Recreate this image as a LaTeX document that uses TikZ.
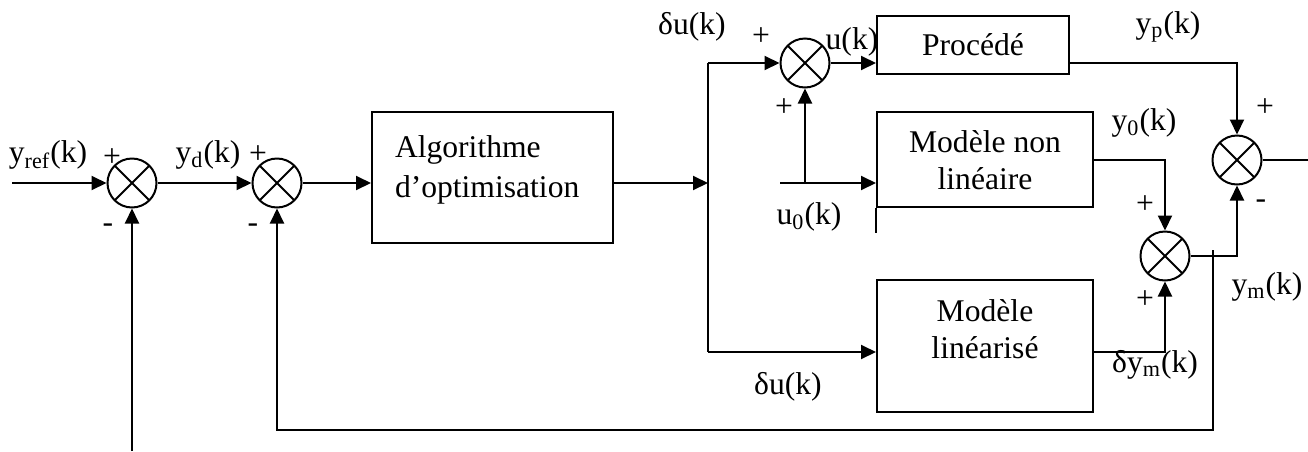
\documentclass[tikz,border=0pt]{standalone}
\usepackage{fontspec}
\setmainfont{Liberation Serif}
\usetikzlibrary{arrows.meta}
\begin{document}
\begin{tikzpicture}[x=0.5pt,y=-0.5pt,line width=1pt,
  >={Triangle[length=7.5pt,width=7pt]},
  sum/.style={circle,draw,minimum size=24.5pt,inner sep=0pt,
    path picture={\draw (path picture bounding box.north west)--(path picture bounding box.south east)
                        (path picture bounding box.north east)--(path picture bounding box.south west);}},
  blk/.style={draw,rectangle,inner sep=0pt},
  lbl/.style={inner sep=0pt,font=\fontsize{15.8}{18.5}\selectfont},
  boxtxt/.style={inner sep=0pt,align=center,font=\fontsize{15.8}{18.5}\selectfont}]
\useasboundingbox (0,0) rectangle (1308,451);
% blocks
\node[blk,minimum width=120.5pt,minimum height=65.5pt] (alg) at (492.5,177.5) {};
\node[blk,minimum width=96pt,minimum height=29pt] (proc) at (973,45) {};
\node[blk,minimum width=108pt,minimum height=47.5pt] (nl) at (985,159.5) {};
\node[blk,minimum width=108pt,minimum height=66pt] (lin) at (985,346) {};
\node[boxtxt,anchor=west,align=left,font=\fontsize{15.8}{20}\selectfont] (algt) at (394,170) {Algorithme\\d’optimisation};
\node[boxtxt] (proct) at (973,45) {Procédé};
\node[boxtxt] (nlt) at (985,160) {Modèle non\\linéaire};
\node[boxtxt] (lint) at (985,329) {Modèle\\linéarisé};
% summing junctions
\node[sum] (s1) at (132,183) {};
\node[sum] (s2) at (277,183) {};
\node[sum] (s3) at (805,63) {};
\node[sum] (s4) at (1165,256) {};
\node[sum] (s5) at (1237,160) {};
% coordinates
\coordinate (in) at (12,183);
\coordinate (fb1) at (132,451);
\coordinate (br) at (708,183);
\coordinate (brT) at (708,63);
\coordinate (brB) at (708,352);
\coordinate (u0s) at (780,183);
\coordinate (fbt) at (1213,250);
\coordinate (fbc) at (1213,430);
\coordinate (out) at (1308,160);
% connectors
\draw[->] (in) -- (s1.west);
\draw[->] (s1.east) -- (s2.west);
\draw[->] (s2.east) -- (s2 -| alg.west);
\draw[->] (fb1) -- (s1.south);
\draw[->] (br -| alg.east) -- (br);
\draw (brT) -- (brB);
\draw[->] (brT) -- (s3.west);
\draw[->] (brB) -- (brB -| lin.west);
\draw[->] (s3.east) -- (s3 -| proc.west);
\draw[->] (u0s) -- (u0s -| nl.west);
\draw[->] (s3 |- u0s) -- (s3.south);
\draw (nl.south west) -- ++(0,25);
\draw[->] (s3 -| proc.east) -- (s5 |- s3) -- (s5.north);
\draw[->] (nl.east) -- (s4 |- nl.east) -- (s4.north);
\draw[->] (brB -| lin.east) -- (s4 |- brB) -- (s4.south);
\draw[->] (s4.east) -- (s5 |- s4) -- (s5.south);
\draw (s5.east) -- (out);
\draw[->] (fbt) -- (fbc) -- (s2 |- fbc) -- (s2.south);
% labels
\node[lbl] (lyref) at (48,155) {y\textsubscript{ref}(k)};
\node[lbl] (lyd) at (208,155) {y\textsubscript{d}(k)};
\node[lbl] (p1) at (112,158) {+};
\node[lbl] (m1) at (108,228) {-};
\node[lbl] (p2) at (258,155) {+};
\node[lbl] (m2) at (253,228) {-};
\node[lbl] (ldu1) at (692,27) {δu(k)};
\node[lbl] (p3a) at (761,37) {+};
\node[lbl] (lu) at (852,42) {u(k)};
\node[lbl] (p3b) at (784,108) {+};
\node[lbl] (lu0) at (809,217) {u\textsubscript{0}(k)};
\node[lbl] (lyp) at (1168,27) {y\textsubscript{p}(k)};
\node[lbl] (ly0) at (1144,123) {y\textsubscript{0}(k)};
\node[lbl] (p4a) at (1145,205) {+};
\node[lbl] (p4b) at (1145,300) {+};
\node[lbl] (lym) at (1267,287) {y\textsubscript{m}(k)};
\node[lbl] (p5) at (1265,108) {+};
\node[lbl] (m5) at (1261,204) {-};
\node[lbl] (ldym) at (1155,365) {δy\textsubscript{m}(k)};
\node[lbl] (ldu2) at (788,387) {δu(k)};
\end{tikzpicture}
\end{document}
